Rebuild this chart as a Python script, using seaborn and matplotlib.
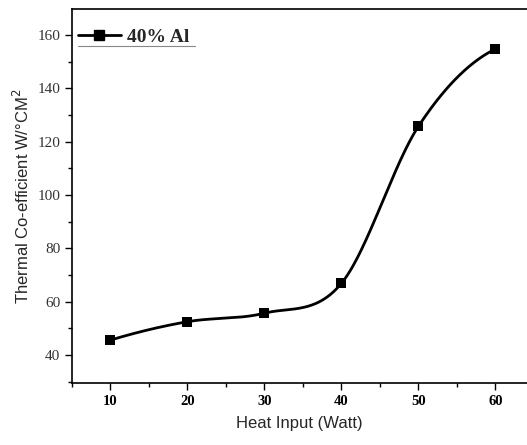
import numpy as np
import pandas as pd
import matplotlib
matplotlib.use("Agg")
import matplotlib.pyplot as plt
from matplotlib.lines import Line2D
from matplotlib.ticker import MultipleLocator
import seaborn as sns

heat_input = [10, 20, 30, 40, 50, 60]
thermal_coeff = [45.6, 52.5, 55.7, 66.9, 125.8, 154.8]
series_label = "40% Al"
x_label = "Heat Input (Watt)"
y_label = "Thermal Co-efficient W/°CM$^2$"
x_ticks = [10, 20, 30, 40, 50, 60]
y_ticks = [40, 60, 80, 100, 120, 140, 160]


def smooth_curve(x, y, n=400):
    """Cubic Hermite (Catmull-Rom style) smoothing through the data points."""
    x = np.asarray(x, float); y = np.asarray(y, float)
    k = len(x)
    h = np.diff(x); d = np.diff(y) / h
    m = np.zeros(k)
    for i in range(1, k - 1):
        m[i] = (y[i + 1] - y[i - 1]) / (x[i + 1] - x[i - 1])
    m[0] = 2 * d[0] - m[1]
    m[-1] = 2 * d[-1] - m[-2]
    xs = np.linspace(x[0], x[-1], n)
    idx = np.clip(np.searchsorted(x, xs) - 1, 0, k - 2)
    hh = h[idx]; t = (xs - x[idx]) / hh
    h00 = 2 * t**3 - 3 * t**2 + 1; h10 = t**3 - 2 * t**2 + t
    h01 = -2 * t**3 + 3 * t**2; h11 = t**3 - t**2
    ys = h00 * y[idx] + h10 * hh * m[idx] + h01 * y[idx + 1] + h11 * hh * m[idx + 1]
    return xs, ys


sns.set_theme(style="ticks")
plt.rcParams["font.family"] = ["Liberation Sans", "DejaVu Sans"]

fig = plt.figure(figsize=(5.27, 4.45), dpi=100)
ax = fig.add_axes([0.1366, 0.1393, 0.8634, 0.8405])

xs, ys = smooth_curve(heat_input, thermal_coeff)
curve = pd.DataFrame({"x": xs, "y": ys})
pts = pd.DataFrame({"x": heat_input, "y": thermal_coeff})
sns.lineplot(data=curve, x="x", y="y", ax=ax, color="black", linewidth=2.0,
             estimator=None, sort=False)
sns.scatterplot(data=pts, x="x", y="y", ax=ax, color="black", marker="s",
                s=45, edgecolor="black", linewidth=0, zorder=3)

ax.set_xlim(5, 64.1)
ax.set_ylim(29.5, 169.8)
ax.set_xticks(x_ticks)
ax.set_yticks(y_ticks)
ax.xaxis.set_minor_locator(MultipleLocator(5))
ax.yaxis.set_minor_locator(MultipleLocator(10))
ax.tick_params(which="major", direction="out", length=5, width=1, colors="black")
ax.tick_params(which="minor", direction="out", length=3, width=1, colors="black")
for lab in ax.get_xticklabels():
    lab.set_fontfamily("Liberation Serif"); lab.set_fontweight("bold"); lab.set_fontsize(10.5)
for lab in ax.get_yticklabels():
    lab.set_fontfamily("Liberation Serif"); lab.set_fontsize(11); lab.set_color("#333333")

ax.spines["right"].set_visible(False)
for s in ["left", "bottom", "top"]:
    ax.spines[s].set_color("black"); ax.spines[s].set_linewidth(1.2)

ax.set_xlabel(x_label, fontsize=12, labelpad=6)
ax.set_ylabel(y_label, fontsize=12, labelpad=4)

handle = Line2D([0], [0], color="black", lw=2, marker="s", markersize=7)
leg = ax.legend([handle], [series_label], loc="upper left", frameon=False,
                bbox_to_anchor=(-0.017, 0.985), handlelength=2.2, handletextpad=0.35,
                borderaxespad=0.3,
                prop={"family": "Liberation Serif", "weight": "bold", "size": 14})
ax.plot([0.013, 0.27], [0.901, 0.901], transform=ax.transAxes, color="#888888", lw=0.8)

fig.savefig("out.png", dpi=100)
